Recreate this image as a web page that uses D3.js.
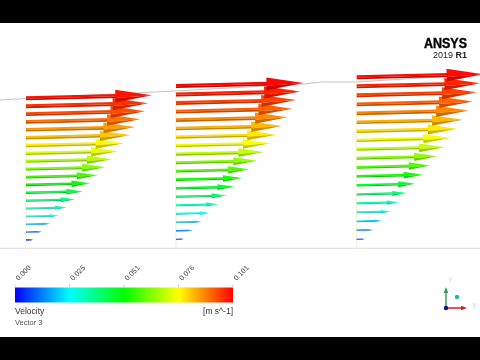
<!doctype html>
<html lang="en">
	<head>
		<meta charset="utf-8">
		<title>Velocity vectors</title>
		<style>
			html, body { margin: 0; padding: 0; background: #000; overflow: hidden; }
			svg { display: block; font-family: "Liberation Sans", Arial, sans-serif; filter: blur(0.3px); }
		</style>
	</head>
	<body>
		<div id="chart"></div>
		<script src="https://cdn.jsdelivr.net/npm/d3@7"></script>
		<script>
			// velocity at each layer, wall-side layer first [m/s]
			var velocityA = [0.0058, 0.0126, 0.0192, 0.0258, 0.0322, 0.0385, 0.0448, 0.0506, 0.0566, 0.0624, 0.0677, 0.0724, 0.0774, 0.0822, 0.0861, 0.0901, 0.0940, 0.0964, 0.0993];
			var velocityB = [0.0063, 0.0134, 0.0203, 0.0266, 0.0334, 0.0397, 0.0461, 0.0521, 0.0579, 0.0638, 0.0693, 0.0743, 0.0790, 0.0837, 0.0879, 0.0916, 0.0948, 0.0980, 0.1006];
			var velocityC = [0.0066, 0.0132, 0.0198, 0.0269, 0.0334, 0.0395, 0.0461, 0.0521, 0.0579, 0.0638, 0.0693, 0.0740, 0.0790, 0.0837, 0.0882, 0.0916, 0.0948, 0.0975, 0.1000];
			var legendTicks = ["0.000", "0.025", "0.051", "0.076", "0.101"];
			var legendValues = [0, 0.02525, 0.0505, 0.07575, 0.101];
			var legendColors = ["#0000ff", "#00ffff", "#00ff00", "#ffff00", "#ff0000"];
			// free surface (x, y in image pixels)
			var surfaceX = [0, 26, 165, 303, 322, 356, 420, 480];
			var surfaceY = [100, 98.5, 91.5, 84, 82, 82, 78, 75];

			var width = 480, height = 360;
			var panels = [
				{ values: velocityA, base: 26, top: 98.3, bottom: 240 },
				{ values: velocityB, base: 176, top: 86, bottom: 239.3 },
				{ values: velocityC, base: 356.7, top: 77.3, bottom: 239.3 }
			];

			var svg = d3.select("#chart").append("svg")
				.attr("width", width)
				.attr("height", height);
			var defs = svg.append("defs");

			// white viewport between the black video bars
			svg.append("rect").attr("width", width).attr("height", height).attr("fill", "#000");
			svg.append("rect").attr("y", 23).attr("width", width).attr("height", 314).attr("fill", "#fff");

			var legendScale = d3.scaleLinear().domain([0, 0.101]).range([15, 233]);
			var colorScale = d3.scaleLinear().domain(legendValues).range(legendColors).clamp(true);
			var lengthScale = d3.scaleLinear().domain([0, 0.101]).range([0, 128]);

			// outline of the domain
			svg.append("line")
				.attr("x1", 0).attr("x2", width)
				.attr("y1", 248.3).attr("y2", 248.3)
				.attr("stroke", "#dcdcdc").attr("stroke-width", 1);
			var surface = d3.line()
				.x(function(d) { return d[0]; })
				.y(function(d) { return d[1]; });
			svg.append("path")
				.attr("d", surface(d3.zip(surfaceX, surfaceY)))
				.attr("fill", "none").attr("stroke", "#c4c4c4").attr("stroke-width", 1);

			panels.forEach(function(panel) {
				var y = d3.scaleLinear().domain([0, panel.values.length - 1]).range([panel.bottom, panel.top]);
				var g = svg.append("g").attr("transform", "translate(" + panel.base + ",0)");

				// inlet line, light yellow
				g.append("line")
					.attr("x1", 0).attr("x2", 0)
					.attr("y1", panel.top).attr("y2", 248.3)
					.attr("stroke", "#f3efc4").attr("stroke-width", 1);

				var arrows = g.selectAll(".arrow")
					.data(panel.values)
					.enter().append("g")
					.attr("class", "arrow")
					.attr("transform", function(d, i) {
						return "translate(0," + y(i) + ") rotate(-1.4)";
					});

				// shaft: upper half in full colour, lower half a bit darker
				arrows.append("path")
					.attr("d", function(d) {
						var l = lengthScale(d), w = shaftWidth(l), s = l * 0.72;
						return "M0," + (-w / 2) + "L" + s + "," + (-w / 2) + "L" + s + ",0.2L0,0.2Z";
					})
					.attr("fill", function(d) { return colorScale(d); });
				arrows.append("path")
					.attr("d", function(d) {
						var l = lengthScale(d), w = shaftWidth(l), s = l * 0.72;
						return "M0,0.2L" + s + ",0.2L" + s + "," + (w / 2) + "L0," + (w / 2) + "Z";
					})
					.attr("fill", function(d) { return d3.color(colorScale(d)).darker(0.75); });

				// cone head
				arrows.append("path")
					.attr("d", function(d) {
						var l = lengthScale(d), s = l * 0.71, hw = l * 0.05;
						return "M" + s + "," + (-hw) + "L" + l + ",0L" + s + "," + (hw * 0.3) + "Z";
					})
					.attr("fill", function(d) { return d3.color(colorScale(d)).brighter(0.15); });
				arrows.append("path")
					.attr("d", function(d) {
						var l = lengthScale(d), s = l * 0.71, hw = l * 0.05;
						return "M" + s + "," + (hw * 0.3) + "L" + l + ",0L" + s + "," + hw + "Z";
					})
					.attr("fill", function(d) { return d3.color(colorScale(d)).darker(0.6); });
			});

			function shaftWidth(l) {
				return 1.1 + l * 0.023;
			}

			// colour legend
			var gradient = defs.append("linearGradient").attr("id", "legendGradient");
			gradient.selectAll("stop")
				.data(legendValues)
				.enter().append("stop")
				.attr("offset", function(d) { return d / 0.101; })
				.attr("stop-color", function(d, i) { return legendColors[i]; });
			svg.append("rect")
				.attr("x", legendScale(0)).attr("y", 287.5)
				.attr("width", legendScale(0.101) - legendScale(0)).attr("height", 15)
				.attr("fill", "url(#legendGradient)");

			var tick = svg.selectAll(".tick")
				.data(legendValues)
				.enter().append("g")
				.attr("class", "tick")
				.attr("transform", function(d) { return "translate(" + legendScale(d) + ",287.5)"; });
			tick.append("line")
				.attr("y1", -3).attr("y2", 0)
				.attr("stroke", "#ccc");
			tick.append("text")
				.attr("transform", "translate(3.5,-6.5) rotate(-45)")
				.attr("text-anchor", "start")
				.attr("font-size", 7.2)
				.attr("fill", "#444")
				.text(function(d, i) { return legendTicks[i]; });

			svg.append("text").attr("x", 15).attr("y", 314).attr("font-size", 8.5).attr("fill", "#333").text("Velocity");
			svg.append("text").attr("x", 15).attr("y", 324.5).attr("font-size", 7.5).attr("fill", "#555").text("Vector 3");
			svg.append("text").attr("x", 233).attr("y", 314).attr("text-anchor", "end").attr("font-size", 8.5).attr("fill", "#333").text("[m s^-1]");

			// logo
			svg.append("text").attr("x", 467).attr("y", 48).attr("text-anchor", "end")
				.attr("font-size", 15).attr("font-weight", 700).attr("fill", "#000")
				.attr("stroke", "#000").attr("stroke-width", 0.4)
				.attr("textLength", 43).attr("lengthAdjust", "spacingAndGlyphs").text("ANSYS");
			var version = svg.append("text").attr("x", 467).attr("y", 58).attr("text-anchor", "end")
				.attr("font-size", 9).attr("fill", "#222");
			version.append("tspan").text("2019 ");
			version.append("tspan").attr("font-weight", 700).text("R1");

			// triad
			var triad = svg.append("g").attr("transform", "translate(446,308)");
			triad.append("line").attr("x2", 17).attr("stroke", "#d8182c").attr("stroke-width", 1.5);
			triad.append("path").attr("d", "M15,-2.2L21,0L15,2.2Z").attr("fill", "#d8182c");
			triad.append("line").attr("y2", -17).attr("stroke", "#4d9a5a").attr("stroke-width", 1.5);
			triad.append("path").attr("d", "M-2.2,-15L0,-21L2.2,-15Z").attr("fill", "#2f9a4a");
			triad.append("circle").attr("r", 2.2).attr("fill", "#101090");
			triad.append("circle").attr("cx", 11).attr("cy", -11).attr("r", 2.2).attr("fill", "#22b8b0");
			triad.append("text").attr("x", 2).attr("y", -26).attr("font-size", 7).attr("fill", "#d8d8e0").text("Y");
			triad.append("text").attr("x", 26).attr("y", 0).attr("font-size", 7).attr("fill", "#f0c8d4").text("X");
		</script>
	</body>
</html>
